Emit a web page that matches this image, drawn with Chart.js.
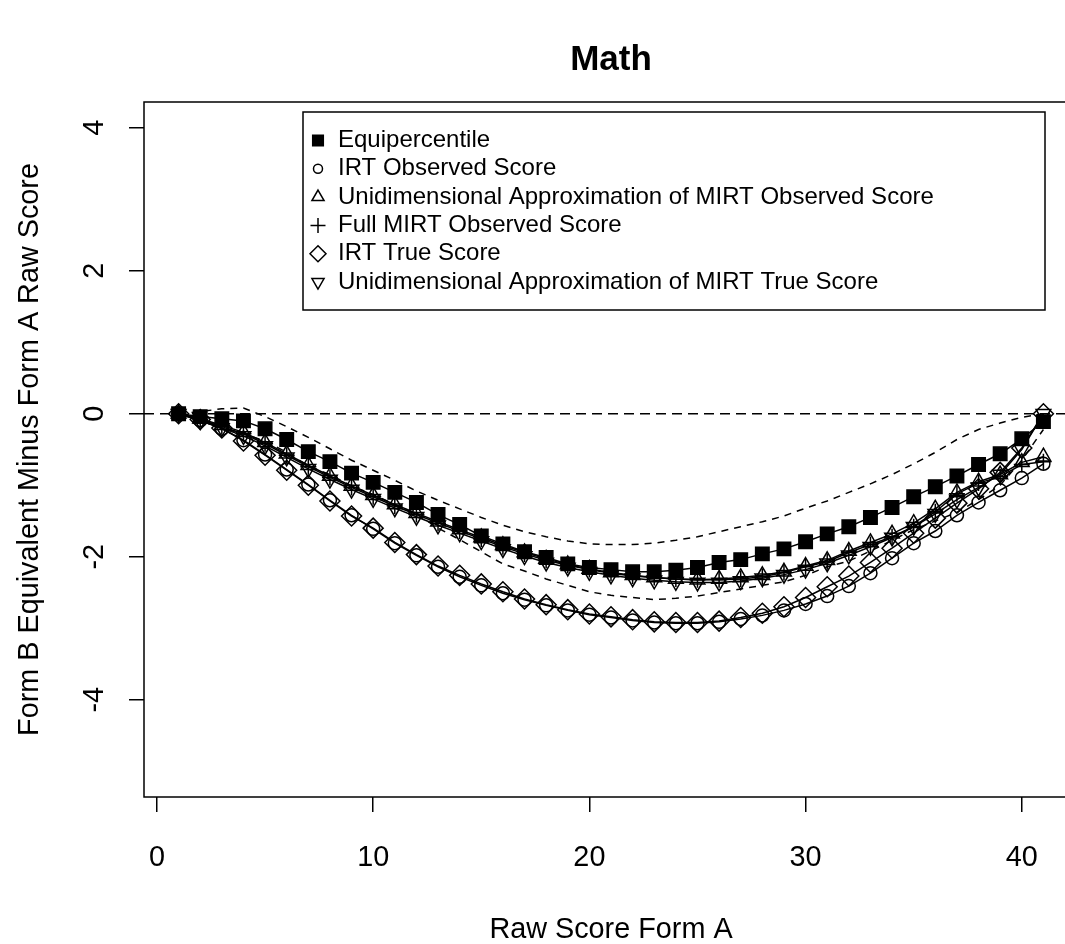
<!DOCTYPE html>
<html>
<head>
<meta charset="utf-8">
<script src="https://cdn.jsdelivr.net/npm/chart.js@4.4.1/dist/chart.umd.min.js"></script>
<style>
html,body{margin:0;padding:0;background:#fff;overflow:hidden;width:1065px;height:944px}
#wrap{position:absolute;left:0;top:0;width:1100px;height:944px}
</style>
</head>
<body>
<div id="wrap"><canvas id="c" width="1100" height="944"></canvas></div>
<script>
// ---------- data ----------
const rawScores = [1,2,3,4,5,6,7,8,9,10,11,12,13,14,15,16,17,18,19,20,21,22,23,24,25,26,27,28,29,30,31,32,33,34,35,36,37,38,39,40,41];
const xTicks = [0,10,20,30,40];
const yTicks = [-4,-2,0,2,4];
const referenceLine = 0;

const equipercentile = [0,-0.04,-0.07,-0.10,-0.21,-0.36,-0.53,-0.67,-0.83,-0.96,-1.10,-1.24,-1.41,-1.55,-1.71,-1.82,-1.93,-2.01,-2.10,-2.15,-2.18,-2.21,-2.21,-2.19,-2.15,-2.08,-2.04,-1.96,-1.89,-1.79,-1.68,-1.58,-1.45,-1.31,-1.16,-1.02,-0.87,-0.71,-0.56,-0.35,-0.11];
const irtObserved = [0,-0.09,-0.21,-0.37,-0.57,-0.78,-0.99,-1.21,-1.42,-1.61,-1.81,-1.98,-2.14,-2.28,-2.40,-2.51,-2.60,-2.68,-2.75,-2.81,-2.85,-2.89,-2.92,-2.93,-2.93,-2.91,-2.87,-2.82,-2.75,-2.66,-2.55,-2.41,-2.23,-2.02,-1.81,-1.64,-1.42,-1.24,-1.07,-0.90,-0.70];
const unidimObserved = [0,-0.07,-0.16,-0.26,-0.40,-0.56,-0.72,-0.87,-1.01,-1.14,-1.27,-1.39,-1.51,-1.62,-1.73,-1.84,-1.94,-2.03,-2.11,-2.17,-2.22,-2.26,-2.29,-2.31,-2.32,-2.31,-2.29,-2.26,-2.21,-2.13,-2.05,-1.92,-1.80,-1.68,-1.53,-1.33,-1.10,-0.95,-0.85,-0.68,-0.60];
const fullMirtObserved = [0,-0.08,-0.18,-0.28,-0.42,-0.58,-0.74,-0.89,-1.03,-1.16,-1.29,-1.41,-1.53,-1.64,-1.75,-1.86,-1.96,-2.05,-2.12,-2.18,-2.23,-2.27,-2.29,-2.31,-2.32,-2.32,-2.31,-2.28,-2.22,-2.14,-2.07,-1.94,-1.83,-1.72,-1.58,-1.37,-1.12,-0.97,-0.88,-0.71,-0.67];
const irtTrue = [0,-0.08,-0.20,-0.38,-0.58,-0.79,-1.00,-1.22,-1.43,-1.60,-1.80,-1.97,-2.13,-2.26,-2.38,-2.49,-2.59,-2.67,-2.74,-2.80,-2.84,-2.88,-2.91,-2.92,-2.92,-2.90,-2.85,-2.79,-2.70,-2.57,-2.42,-2.27,-2.08,-1.88,-1.67,-1.46,-1.25,-1.05,-0.82,-0.48,0];
const unidimTrue = [0,-0.10,-0.20,-0.31,-0.45,-0.61,-0.77,-0.92,-1.06,-1.19,-1.32,-1.44,-1.56,-1.67,-1.78,-1.89,-1.99,-2.08,-2.15,-2.21,-2.26,-2.30,-2.33,-2.35,-2.36,-2.36,-2.34,-2.30,-2.25,-2.18,-2.09,-1.98,-1.86,-1.73,-1.58,-1.40,-1.20,-1.03,-0.85,-0.50,0];
const upperBand = [0,0.03,0.07,0.08,-0.04,-0.18,-0.33,-0.49,-0.65,-0.79,-0.93,-1.08,-1.21,-1.33,-1.45,-1.56,-1.65,-1.72,-1.78,-1.82,-1.83,-1.83,-1.81,-1.77,-1.72,-1.65,-1.58,-1.51,-1.43,-1.32,-1.22,-1.10,-0.98,-0.85,-0.70,-0.54,-0.36,-0.22,-0.13,-0.05,0];
const lowerBand = [0,-0.10,-0.20,-0.28,-0.38,-0.54,-0.73,-0.85,-1.01,-1.13,-1.27,-1.40,-1.60,-1.76,-1.93,-2.10,-2.20,-2.31,-2.40,-2.49,-2.54,-2.57,-2.60,-2.58,-2.55,-2.50,-2.45,-2.40,-2.35,-2.26,-2.14,-2.06,-1.92,-1.77,-1.62,-1.50,-1.38,-1.20,-1.00,-0.65,-0.22];

const seriesLabels = [
  'Equipercentile',
  'IRT Observed Score',
  'Unidimensional Approximation of MIRT Observed Score',
  'Full MIRT Observed Score',
  'IRT True Score',
  'Unidimensional Approximation of MIRT True Score'
];
const seriesValues = [equipercentile, irtObserved, unidimObserved, fullMirtObserved, irtTrue, unidimTrue];

// ---------- styles ----------
const FONT = '"Liberation Sans", Arial, Helvetica, sans-serif';
const markerStyles = [
  {style:'rect',     rot:0,   r:9.5, lr:7.5, fill:'#000'},
  {style:'circle',   rot:0,   r:6.5, lr:4.5, fill:'rgba(0,0,0,0)'},
  {style:'triangle', rot:0,   r:8.5, lr:7,   fill:'rgba(0,0,0,0)'},
  {style:'cross',    rot:0,   r:8,   lr:7.5, fill:'rgba(0,0,0,0)'},
  {style:'rectRot',  rot:0,   r:10,  lr:8,   fill:'rgba(0,0,0,0)'},
  {style:'triangle', rot:180, r:8.5, lr:7,   fill:'rgba(0,0,0,0)'}
];

const toPts = arr => rawScores.map((x, i) => ({x: x, y: arr[i]}));

const datasets = seriesValues.map((vals, i) => ({
  label: seriesLabels[i],
  data: toPts(vals),
  borderColor: '#000',
  borderWidth: 1.5,
  pointStyle: markerStyles[i].style,
  rotation: markerStyles[i].rot,
  pointRadius: markerStyles[i].r,
  pointBorderColor: '#000',
  pointBackgroundColor: markerStyles[i].fill,
  pointBorderWidth: 1.5,
  fill: false,
  tension: 0
}));
datasets.push({label:'Upper band', data: toPts(upperBand), borderColor:'#000', borderWidth:1.5, borderDash:[7,6], pointRadius:0, fill:false, tension:0});
datasets.push({label:'Lower band', data: toPts(lowerBand), borderColor:'#000', borderWidth:1.5, borderDash:[7,6], pointRadius:0, fill:false, tension:0});

// ---------- plugins ----------
const framePlugin = {
  id: 'frame',
  beforeDatasetsDraw(chart) {
    const {ctx, chartArea: a, scales: {y}} = chart;
    ctx.save();
    ctx.strokeStyle = '#000';
    ctx.lineWidth = 1.5;
    ctx.setLineDash([10, 6]);
    const py = y.getPixelForValue(referenceLine);
    ctx.beginPath();
    ctx.moveTo(a.left, py);
    ctx.lineTo(a.right, py);
    ctx.stroke();
    ctx.setLineDash([]);
    ctx.strokeRect(a.left, a.top, a.right - a.left, a.bottom - a.top);
    ctx.restore();
  }
};

function drawMarker(ctx, m, x, y) {
  const r = m.lr;
  ctx.beginPath();
  if (m.style === 'rect') {
    const s = Math.SQRT1_2 * r;
    ctx.rect(x - s, y - s, 2 * s, 2 * s);
  } else if (m.style === 'circle') {
    ctx.arc(x, y, r, 0, Math.PI * 2);
  } else if (m.style === 'triangle') {
    const sgn = m.rot === 180 ? -1 : 1;
    const rad = m.rot * Math.PI / 180;
    for (let k = 0; k < 3; k++) {
      const a = rad + k * 2 * Math.PI / 3;
      const px = x + Math.sin(a) * r;
      const py = y - Math.cos(a) * r;
      if (k === 0) ctx.moveTo(px, py); else ctx.lineTo(px, py);
    }
    ctx.closePath();
  } else if (m.style === 'cross') {
    ctx.moveTo(x - r, y); ctx.lineTo(x + r, y);
    ctx.moveTo(x, y - r); ctx.lineTo(x, y + r);
  } else if (m.style === 'rectRot') {
    ctx.moveTo(x, y - r); ctx.lineTo(x + r, y); ctx.lineTo(x, y + r); ctx.lineTo(x - r, y);
    ctx.closePath();
  }
  ctx.fillStyle = m.fill;
  if (m.style !== 'cross') ctx.fill();
  ctx.stroke();
}

const legendPlugin = {
  id: 'rlegend',
  afterDraw(chart) {
    const ctx = chart.ctx;
    ctx.save();
    ctx.strokeStyle = '#000';
    ctx.lineWidth = 1.5;
    ctx.fillStyle = '#fff';
    ctx.fillRect(303, 112, 742, 198);
    ctx.strokeRect(303, 112, 742, 198);
    ctx.font = '24px ' + FONT;
    ctx.textBaseline = 'middle';
    ctx.textAlign = 'left';
    seriesLabels.forEach((lab, i) => {
      const yy = 140.5 + i * 28.3;
      ctx.lineWidth = 1.5;
      ctx.strokeStyle = '#000';
      drawMarker(ctx, markerStyles[i], 318, yy);
      ctx.fillStyle = '#000';
      ctx.fillText(lab, 338, yy);
    });
    ctx.restore();
  }
};

// ---------- chart ----------
new Chart(document.getElementById('c'), {
  type: 'line',
  data: { datasets: datasets },
  options: {
    responsive: false,
    animation: false,
    devicePixelRatio: 1,
    events: [],
    layout: { padding: { left: 0, right: 22, top: 0, bottom: 0 } },
    plugins: {
      legend: { display: false },
      tooltip: { enabled: false },
      title: {
        display: true,
        text: 'Math',
        fullSize: false,
        color: '#000',
        font: { family: FONT, size: 35, weight: 'bold', lineHeight: 1.2 },
        padding: { top: 39, bottom: 21 }
      }
    },
    scales: {
      x: {
        type: 'linear',
        min: -0.6,
        max: 42.6,
        afterBuildTicks: s => { s.ticks = xTicks.map(v => ({value: v})); },
        afterFit: s => { s.height = 147; },
        border: { display: false },
        grid: { display: true, drawOnChartArea: false, drawTicks: true, tickLength: 15, color: '#000', lineWidth: 1.5 },
        ticks: { color: '#000', font: { family: FONT, size: 28.8 }, padding: 29, maxRotation: 0, autoSkip: false },
        title: { display: true, text: 'Raw Score Form A', color: '#000', font: { family: FONT, size: 28.8, lineHeight: 1 }, padding: { top: 0, bottom: 0 } }
      },
      y: {
        type: 'linear',
        min: -5.36,
        max: 4.36,
        afterBuildTicks: s => { s.ticks = yTicks.map(v => ({value: v})); },
        afterFit: s => { s.width = 144; },
        border: { display: false },
        grid: { display: true, drawOnChartArea: false, drawTicks: true, tickLength: 15, color: '#000', lineWidth: 1.5 },
        ticks: { color: '#000', font: { family: FONT, size: 28.8 }, padding: 21, minRotation: 90, maxRotation: 90, crossAlign: 'center', autoSkip: false },
        title: { display: true, text: 'Form B Equivalent Minus Form A Raw Score', color: '#000', font: { family: FONT, size: 28.8, lineHeight: 1 }, padding: { top: 16, bottom: 0 } }
      }
    }
  },
  plugins: [framePlugin, legendPlugin]
});
</script>
</body>
</html>
